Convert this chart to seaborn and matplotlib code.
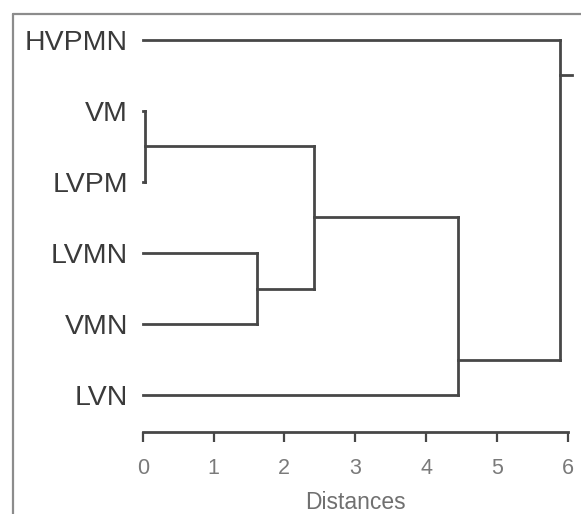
import matplotlib
matplotlib.use("Agg")
import matplotlib.pyplot as plt
from matplotlib.lines import Line2D
import pandas as pd
import seaborn as sns

# Leaves in display order (top to bottom)
leaves = ["HVPMN", "VM", "LVPM", "LVMN", "VMN", "LVN"]

# Agglomeration steps: ids < len(leaves) are leaves, later ids are the merged clusters
merge_left = [1, 3, 6, 8, 0]
merge_right = [2, 4, 7, 5, 9]
merge_dist = [0.03, 1.62, 2.42, 4.45, 5.89]

dist_ticks = [0, 1, 2, 3, 4, 5, 6]

ROOT_STUB = 0.17
LINE_COLOR = "#474747"

n = len(leaves)
anchor_y = {i: float(i) for i in range(n)}
anchor_x = {i: 0.0 for i in range(n)}
span = {i: (i, i) for i in range(n)}

rows = []
seg = 0
for k, (l, r, d) in enumerate(zip(merge_left, merge_right, merge_dist)):
    new = n + k
    lo = min(span[l][0], span[r][0])
    hi = max(span[l][1], span[r][1])
    upper, lower = (l, r) if span[l][0] < span[r][0] else (r, l)
    # junction sits between the two groups' neighbouring leaves
    junction = (span[upper][1] + span[lower][0]) / 2.0
    for child in (l, r):
        rows += [(seg, anchor_x[child], anchor_y[child]), (seg, d, anchor_y[child])]
        seg += 1
    rows += [(seg, d, anchor_y[l]), (seg, d, anchor_y[r])]
    seg += 1
    anchor_y[new] = junction
    anchor_x[new] = d
    span[new] = (lo, hi)

root = n + len(merge_dist) - 1
rows += [(seg, anchor_x[root], anchor_y[root]),
         (seg, anchor_x[root] + ROOT_STUB, anchor_y[root])]

segs = pd.DataFrame(rows, columns=["seg", "x", "y"])

sns.set_theme(style="white")
plt.rcParams["font.family"] = ["Liberation Sans", "DejaVu Sans"]

W, H = 581, 514
fig = plt.figure(figsize=(W / 100, H / 100), dpi=100)
ax = fig.add_axes([142.7 / W, (H - 432) / H, 425 / W, (432 - 20) / H])

sns.lineplot(data=segs, x="x", y="y", units="seg", estimator=None, sort=False,
             color=LINE_COLOR, linewidth=2.0, legend=False, ax=ax)
for ln in ax.lines:
    ln.set_clip_on(False)
    ln.set_solid_capstyle("projecting")

ax.set_xlim(0, 6)
ax.set_ylim(5.52, -0.28)

ax.set_xticks(dist_ticks)
ax.set_xticklabels([str(t) for t in dist_ticks])
ax.set_yticks(range(n))
ax.set_yticklabels(leaves)

for side in ("left", "top", "right"):
    ax.spines[side].set_visible(False)
ax.spines["bottom"].set_color(LINE_COLOR)
ax.spines["bottom"].set_linewidth(2.0)

ax.tick_params(axis="x", bottom=True, direction="out", length=7.5, width=1.6,
               color=LINE_COLOR, pad=11, labelsize=15.5, labelcolor="#7a7a7a")
ax.tick_params(axis="y", left=False, length=0, pad=10.5, labelsize=20.5,
               labelcolor="#3a3a3a")

ax.set_xlabel("Distances", fontsize=16.5, color="#707070", labelpad=9)
ax.set_ylabel("")

# outer frame around the figure
fig.add_artist(Line2D([12.5 / W, 12.5 / W], [0, 1 - 13.5 / H],
                      transform=fig.transFigure, color="#8c8c8c", linewidth=1.6))
fig.add_artist(Line2D([12.5 / W, 1], [1 - 13.5 / H, 1 - 13.5 / H],
                      transform=fig.transFigure, color="#8c8c8c", linewidth=1.6))

fig.savefig("out.png", dpi=100, facecolor="white")
